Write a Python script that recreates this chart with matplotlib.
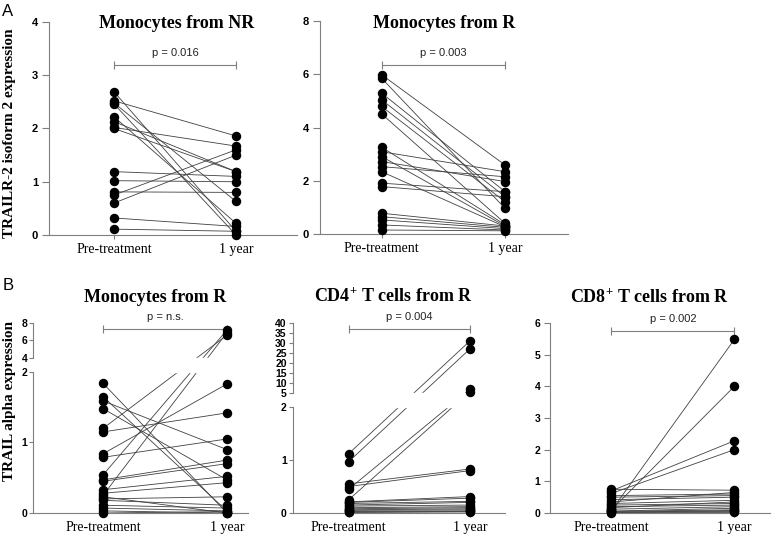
import numpy as np
import matplotlib
matplotlib.use('Agg')
import matplotlib.pyplot as plt
import matplotlib.transforms as mtransforms

groups = ['Pre-treatment', '1 year']

# A: TRAILR-2 isoform 2 expression
nr_pre = [2.69, 2.52, 2.48, 2.46, 2.22, 2.13, 2.02, 2.00, 1.19, 1.02, 0.81, 0.75, 0.60, 0.32, 0.11]
nr_post = [0.07, 1.86, 0.63, 0.00, 0.22, 1.19, 1.67, 1.19, 1.10, 1.00, 0.80, 1.60, 1.50, 0.16, 0.07]

r_pre = [5.98, 5.85, 5.29, 5.04, 4.79, 4.51, 3.26, 3.09, 2.91, 2.72, 2.53, 2.34, 1.91, 1.78,
         0.78, 0.65, 0.53, 0.34, 0.15]
r_post = [2.59, 0.96, 1.59, 1.40, 1.21, 0.40, 0.35, 2.34, 0.30, 1.97, 2.15, 0.27, 1.59, 1.40,
          0.30, 0.25, 0.20, 0.15, 0.12]

# B: TRAIL alpha expression
mono_pre = [1.84, 1.65, 1.59, 1.48, 1.20, 1.15, 0.84, 0.79, 0.54, 0.47, 0.45, 0.33, 0.28,
            0.25, 0.23, 0.20, 0.18, 0.11, 0.07, 0.03, 0.00]
mono_post = [0.00, 0.03, 0.90, 0.47, 6.60, 1.42, 1.83, 1.05, 7.20, 0.75, 0.70, 0.52, 0.43,
             6.90, 0.00, 0.23, 0.11, 0.07, 0.03, 0.00, 0.02]

cd4_pre = [1.12, 0.97, 0.55, 0.50, 0.45, 0.25, 0.21, 0.20, 0.18, 0.15, 0.13, 0.10, 0.08,
           0.06, 0.05, 0.03, 0.02, 0.01]
cd4_post = [31.0, 27.0, 0.83, 0.80, 6.8, 5.7, 0.31, 0.28, 0.22, 0.20, 0.15, 0.12, 0.10,
            0.08, 0.06, 0.04, 0.03, 0.02]

cd8_pre = [0.75, 0.70, 0.62, 0.55, 0.50, 0.42, 0.35, 0.30, 0.25, 0.20, 0.17, 0.12, 0.10,
           0.08, 0.06, 0.05, 0.03, 0.02, 0.01]
cd8_post = [0.72, 2.28, 2.00, 0.60, 0.55, 0.50, 0.65, 0.40, 0.30, 0.25, 0.35, 0.20, 4.00,
            5.48, 0.15, 0.10, 0.05, 0.08, 0.02]

SERIF = 'Liberation Serif'
SANS = 'Liberation Sans'
GREY = '#7f7f7f'

plt.rcParams['mathtext.fontset'] = 'custom'
plt.rcParams['mathtext.rm'] = 'Liberation Serif:bold'
plt.rcParams['mathtext.bf'] = 'Liberation Serif:bold'
plt.rcParams['mathtext.it'] = 'Liberation Serif:bold'

W, H = 777, 535
fig = plt.figure(figsize=(W / 100, H / 100), dpi=100)


def add_ax(x0, x1, y_top, y_bot):
    return fig.add_axes([x0 / W, 1 - y_bot / H, (x1 - x0) / W, (y_bot - y_top) / H])


def broken_scale(xp, fp):
    xp = [-100] + xp + [1000]
    slope = (fp[-1] - fp[-2]) / (xp[-2] - xp[-3])
    fp = [-100] + fp + [fp[-1] + (1000 - xp[-2]) * slope]
    return (lambda v: np.interp(v, xp, fp)), (lambda v: np.interp(v, fp, xp))


def draw_panel(ax, pre, post, xlim, ylim, yticks, tsize=8, tlen=4, tpad=3):
    for a, b in zip(pre, post):
        ax.plot([0, 1], [a, b], color='#404040', lw=0.6, zorder=2)
    ax.plot(np.zeros(len(pre)), pre, 'o', color='black', ms=5.8, zorder=5, clip_on=False)
    ax.plot(np.ones(len(post)), post, 'o', color='black', ms=5.8, zorder=5, clip_on=False)
    ax.set_xlim(xlim)
    ax.set_ylim(ylim)
    ax.set_xticks([0, 1])
    ax.set_xticklabels(groups, fontfamily=SERIF, fontsize=10)
    ax.set_yticks(yticks)
    ax.set_yticklabels([str(t) for t in yticks], fontfamily=SANS, fontsize=tsize,
                       fontweight='bold')
    for s in ['top', 'right']:
        ax.spines[s].set_visible(False)
    for s in ['left', 'bottom']:
        ax.spines[s].set_color(GREY)
        ax.spines[s].set_linewidth(0.8)
    ax.tick_params(axis='x', colors=GREY, labelcolor='black', length=3, width=0.8, pad=3)
    ax.tick_params(axis='y', colors=GREY, labelcolor='black', length=tlen, width=0.8, pad=tpad)


def bracket(ax, y, text):
    ax.plot([0, 1], [y, y], color=GREY, lw=0.8, marker='|', ms=6, mew=0.8, zorder=3)
    ax.annotate(text, xy=(0.5, y), xytext=(0, 5), textcoords='offset points',
                ha='center', va='bottom', fontfamily=SANS, fontsize=8, color='#222222')


def split_spine(ax, segments):
    ax.spines['left'].set_visible(False)
    tr = mtransforms.blended_transform_factory(ax.transAxes, ax.transData)
    for lo, hi in segments:
        ax.plot([0, 0], [lo, hi], color=GREY, lw=0.8, transform=tr, clip_on=False, zorder=6)


# Panel A
ax1 = add_ax(49, 297, 22, 235)
draw_panel(ax1, nr_pre, nr_post, (-0.533, 1.5), (0, 4), [0, 1, 2, 3, 4], tlen=5, tpad=3)
bracket(ax1, 3.2, 'p = 0.016')

ax2 = add_ax(320, 568, 21, 234)
draw_panel(ax2, r_pre, r_post, (-0.5, 1.51), (0, 8), [0, 2, 4, 6, 8], tlen=5, tpad=3)
bracket(ax2, 6.35, 'p = 0.003')

# Panel B
ax3 = add_ax(33, 248, 323, 513)
fwd, inv = broken_scale([0, 2, 4, 8], [0, 2, 2.199, 2.695])
ax3.set_yscale('function', functions=(fwd, inv))
draw_panel(ax3, mono_pre, mono_post, (-0.565, 1.17), (0, 8), [0, 1, 2, 4, 6, 8],
           tsize=7.5, tlen=3, tpad=1)
ax3.axhspan(2.02, 3.98, color='white', zorder=3)
split_spine(ax3, [(0, 2), (4, 8)])
bracket(ax3, 7.31, 'p = n.s.')

ax4 = add_ax(293, 505, 323, 513)
fwd, inv = broken_scale([0, 2, 5, 40], [0, 2, 2.264, 3.585])
ax4.set_yscale('function', functions=(fwd, inv))
draw_panel(ax4, cd4_pre, cd4_post, (-0.46, 1.29), (0, 40),
           [0, 1, 2, 5, 10, 15, 20, 25, 30, 35, 40], tsize=7.5, tlen=3, tpad=1.5)
ax4.axhspan(2.03, 4.95, color='white', zorder=3)
split_spine(ax4, [(0, 2), (5, 40)])
bracket(ax4, 37, 'p = 0.004')

ax5 = add_ax(550, 770, 323, 513)
draw_panel(ax5, cd8_pre, cd8_post, (-0.5, 1.29), (0, 6), [0, 1, 2, 3, 4, 5, 6],
           tsize=7.5, tlen=4, tpad=3)
bracket(ax5, 5.75, 'p = 0.002')

# titles
title_kw = dict(fontfamily=SERIF, fontweight='bold', fontsize=13, ha='center', va='center')
fig.text(177 / W, 1 - 24 / H, 'Monocytes from NR', **title_kw)
fig.text(444 / W, 1 - 23 / H, 'Monocytes from R', **title_kw)
fig.text(155 / W, 1 - 297 / H, 'Monocytes from R', **title_kw)
fig.text(393 / W, 1 - 296 / H, 'CD4$^{+}$ T cells from R', **title_kw)
fig.text(649 / W, 1 - 297 / H, 'CD8$^{+}$ T cells from R', **title_kw)

# axis labels and panel letters
fig.text(10 / W, 1 - 133 / H, 'TRAILR-2 isoform 2 expression', rotation=90,
         fontfamily=SERIF, fontweight='bold', fontsize=11, ha='center', va='center')
fig.text(10 / W, 1 - 401 / H, 'TRAIL alpha expression', rotation=90,
         fontfamily=SERIF, fontweight='bold', fontsize=11, ha='center', va='center')
fig.text(8 / W, 1 - 12 / H, 'A', fontfamily=SANS, fontsize=12, ha='center', va='center')
fig.text(8 / W, 1 - 285 / H, 'B', fontfamily=SANS, fontsize=12, ha='center', va='center')

fig.savefig('out.png', dpi=100)
